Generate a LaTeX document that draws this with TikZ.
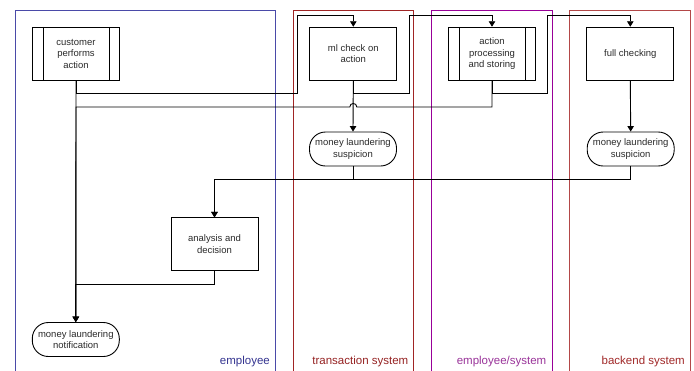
\documentclass[tikz,border=0pt]{standalone}
\usepackage{fontspec}
\setmainfont{Liberation Sans}
\usetikzlibrary{arrows.meta}
\definecolor{empc}{HTML}{4A4AA8}
\definecolor{empt}{HTML}{33338F}
\definecolor{trac}{HTML}{A02424}
\definecolor{trat}{HTML}{952222}
\definecolor{esc}{HTML}{980098}
\definecolor{est}{HTML}{993399}
\definecolor{bec}{HTML}{B34848}
\definecolor{bet}{HTML}{A02828}
\definecolor{ink}{HTML}{2A2A2A}
\begin{document}
\begin{tikzpicture}[x=1pt,y=-1pt,
  lane/.style={line width=0.9pt},
  lanelabel/.style={anchor=base east, inner sep=0pt, font=\fontsize{11.5}{13}\selectfont},
  box/.style={draw, rectangle, line width=0.9pt, minimum width=87pt, minimum height=53pt,
    align=center, inner sep=2pt, text=ink, font=\fontsize{9.5}{11.5}\selectfont},
  term/.style={draw, rectangle, rounded corners=16pt, line width=0.9pt, minimum width=87pt,
    minimum height=34pt, align=center, inner sep=1pt, text=ink, font=\fontsize{9.5}{11.5}\selectfont},
  flow/.style={line width=0.9pt, -{Triangle[length=5.5pt,width=6.5pt]}},
  plain/.style={line width=0.9pt}]
\useasboundingbox (0,0) rectangle (694,370);
\clip (0,0) rectangle (694,370);
% lanes
\draw[lane, empc] (15,380) -- (15,10) -- (275,10) -- (275,380);
\draw[lane, trac] (293,380) -- (293,10) -- (413.5,10) -- (413.5,380);
\draw[lane, esc] (431,380) -- (431,10) -- (552.5,10) -- (552.5,380);
\draw[lane, bec] (569.5,380) -- (569.5,10) -- (690.5,10) -- (690.5,380);
\node[lanelabel, text=empt] (lemp) at (270,364) {employee};
\node[lanelabel, text=trat] (ltra) at (408.5,364) {transaction system};
\node[lanelabel, text=est] (les) at (546.5,364) {employee/system};
\node[lanelabel, text=bet] (lbe) at (685,364) {backend system};
% nodes
\node[box] (cust) at (76,53.7) {customer\\performs\\action};
\draw[plain] ([xshift=11pt]cust.north west) -- ([xshift=11pt]cust.south west);
\draw[plain] ([xshift=-11pt]cust.north east) -- ([xshift=-11pt]cust.south east);
\node[box] (ml) at (353.3,53.7) {ml check on\\action};
\node[box] (proc) at (492,53.7) {action\\processing\\and storing};
\draw[plain] ([xshift=11pt]proc.north west) -- ([xshift=11pt]proc.south west);
\draw[plain] ([xshift=-11pt]proc.north east) -- ([xshift=-11pt]proc.south east);
\node[box] (full) at (630.3,53.7) {full checking};
\node[term] (susa) at (353,149) {money laundering\\suspicion};
\node[term] (susb) at (630.7,149) {money laundering\\suspicion};
\node[box] (anal) at (214.5,244.3) {analysis and\\decision};
\node[term] (notif) at (75.8,339.5) {money laundering\\notification};
% connectors
\coordinate (ca) at (297,15);
\coordinate (cb) at (409,15);
\coordinate (cc) at (547,15);
\coordinate (h) at (0,107);
\draw[flow] (cust.south) -- ++(0,13) -| (ca) -| (ml.north);
\draw[flow] (ml.south) -- ++(0,13) -| (cb) -| (proc.north);
\draw[flow] (proc.south) -- ++(0,13) -| (cc) -| (full.north);
\draw[flow] (proc.south) -- (proc.south |- h) -- (356.8,107)
  .. controls (356.8,102.3) and (349.8,102.3) .. (349.8,107)
  -- (cust.south |- h) -- (notif.north);
\draw[flow] (cust.south) -- (notif.north);
\draw[flow] (ml.south) -- (susa.north);
\draw[flow] (full.south) -- (susb.north);
\draw[flow] (susa.south) -- ++(0,13.3) -| (anal.north);
\draw[flow] (susb.south) -- ++(0,13.3) -| (anal.north);
\draw[flow] (anal.south) -- ++(0,12.7) -| (notif.north);
\end{tikzpicture}
\end{document}
